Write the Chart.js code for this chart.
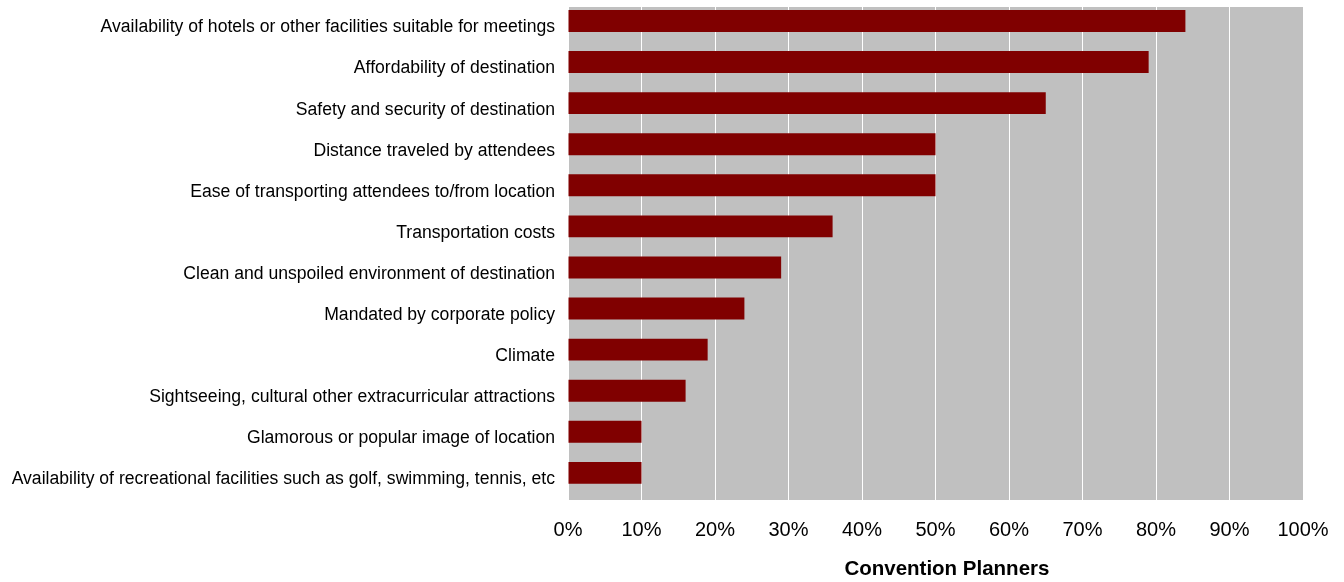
<!DOCTYPE html>
<html>
<head>
<meta charset="utf-8">
<script src="https://cdn.jsdelivr.net/npm/chart.js@4/dist/chart.umd.min.js"></script>
<style>
  html, body { margin: 0; padding: 0; background: #fff; }
  #wrap { width: 1344px; height: 582px; }
</style>
</head>
<body>
<div id="wrap"><canvas id="chart" width="1344" height="582"></canvas></div>
<script>
// categories and values (percent of convention planners)
const categories = [
    'Availability of hotels or other facilities suitable for meetings',
    'Affordability of destination',
    'Safety and security of destination',
    'Distance traveled by attendees',
    'Ease of transporting attendees to/from location',
    'Transportation costs',
    'Clean and unspoiled environment of destination',
    'Mandated by corporate policy',
    'Climate',
    'Sightseeing, cultural other extracurricular attractions',
    'Glamorous or popular image of location',
    'Availability of recreational facilities such as golf, swimming, tennis, etc'
];
const plannerValues = [84, 79, 65, 50, 50, 36, 29, 24, 19, 16, 10, 10];
const xTicks = [0, 10, 20, 30, 40, 50, 60, 70, 80, 90, 100];

// fill the plot area grey
const plotBackground = {
    id: 'plotBackground',
    beforeDraw(chart) {
        const { ctx, chartArea } = chart;
        ctx.save();
        ctx.fillStyle = '#c0c0c0';
        ctx.fillRect(chartArea.left, chartArea.top, chartArea.right - chartArea.left, chartArea.bottom - chartArea.top);
        ctx.restore();
    }
};

Chart.defaults.font.family = '"Liberation Sans", Arial, sans-serif';
Chart.defaults.color = '#000';

new Chart(document.getElementById('chart').getContext('2d'), {
    type: 'bar',
    data: {
        labels: categories,
        datasets: [{
            label: 'Convention Planners',
            data: plannerValues,
            backgroundColor: '#800000',
            borderWidth: 0,
            barPercentage: 1.67,
            categoryPercentage: 0.64
        }, {
            // empty slot so the bars sit in the upper part of each band, as in the original
            label: '',
            data: categories.map(() => null),
            backgroundColor: 'rgba(0,0,0,0)',
            barPercentage: 1.67,
            categoryPercentage: 0.64
        }]
    },
    options: {
        indexAxis: 'y',
        responsive: false,
        animation: false,
        layout: { padding: { top: 7, right: 41, bottom: 0, left: 0 } },
        plugins: {
            legend: { display: false },
            tooltip: { enabled: false }
        },
        scales: {
            x: {
                min: 0,
                max: 100,
                afterBuildTicks(scale) {
                    scale.ticks = xTicks.map(v => ({ value: v }));
                },
                afterFit(scale) {
                    scale.height = 82;
                    scale.paddingLeft = 0;
                    scale.paddingRight = 0;
                    scale.paddingTop = 0;
                    scale.paddingBottom = 0;
                },
                grid: { color: '#ffffff', lineWidth: 1, drawTicks: false },
                border: { display: false },
                ticks: {
                    padding: 18,
                    font: { size: 20 },
                    callback: v => v + '%'
                },
                title: {
                    display: true,
                    text: '\u00a0\u00a0\u00a0\u00a0Convention Planners',
                    font: { size: 20.5, weight: 'bold' },
                    padding: { top: 12, bottom: 0 }
                }
            },
            y: {
                afterFit(scale) {
                    scale.width = 568;
                    scale.paddingTop = 0;
                    scale.paddingBottom = 0;
                    scale.paddingLeft = 0;
                    scale.paddingRight = 0;
                },
                grid: { display: false, drawTicks: false },
                border: { display: false },
                ticks: {
                    padding: 13,
                    font: { size: 17.6 }
                }
            }
        }
    },
    plugins: [plotBackground]
});
</script>
</body>
</html>
